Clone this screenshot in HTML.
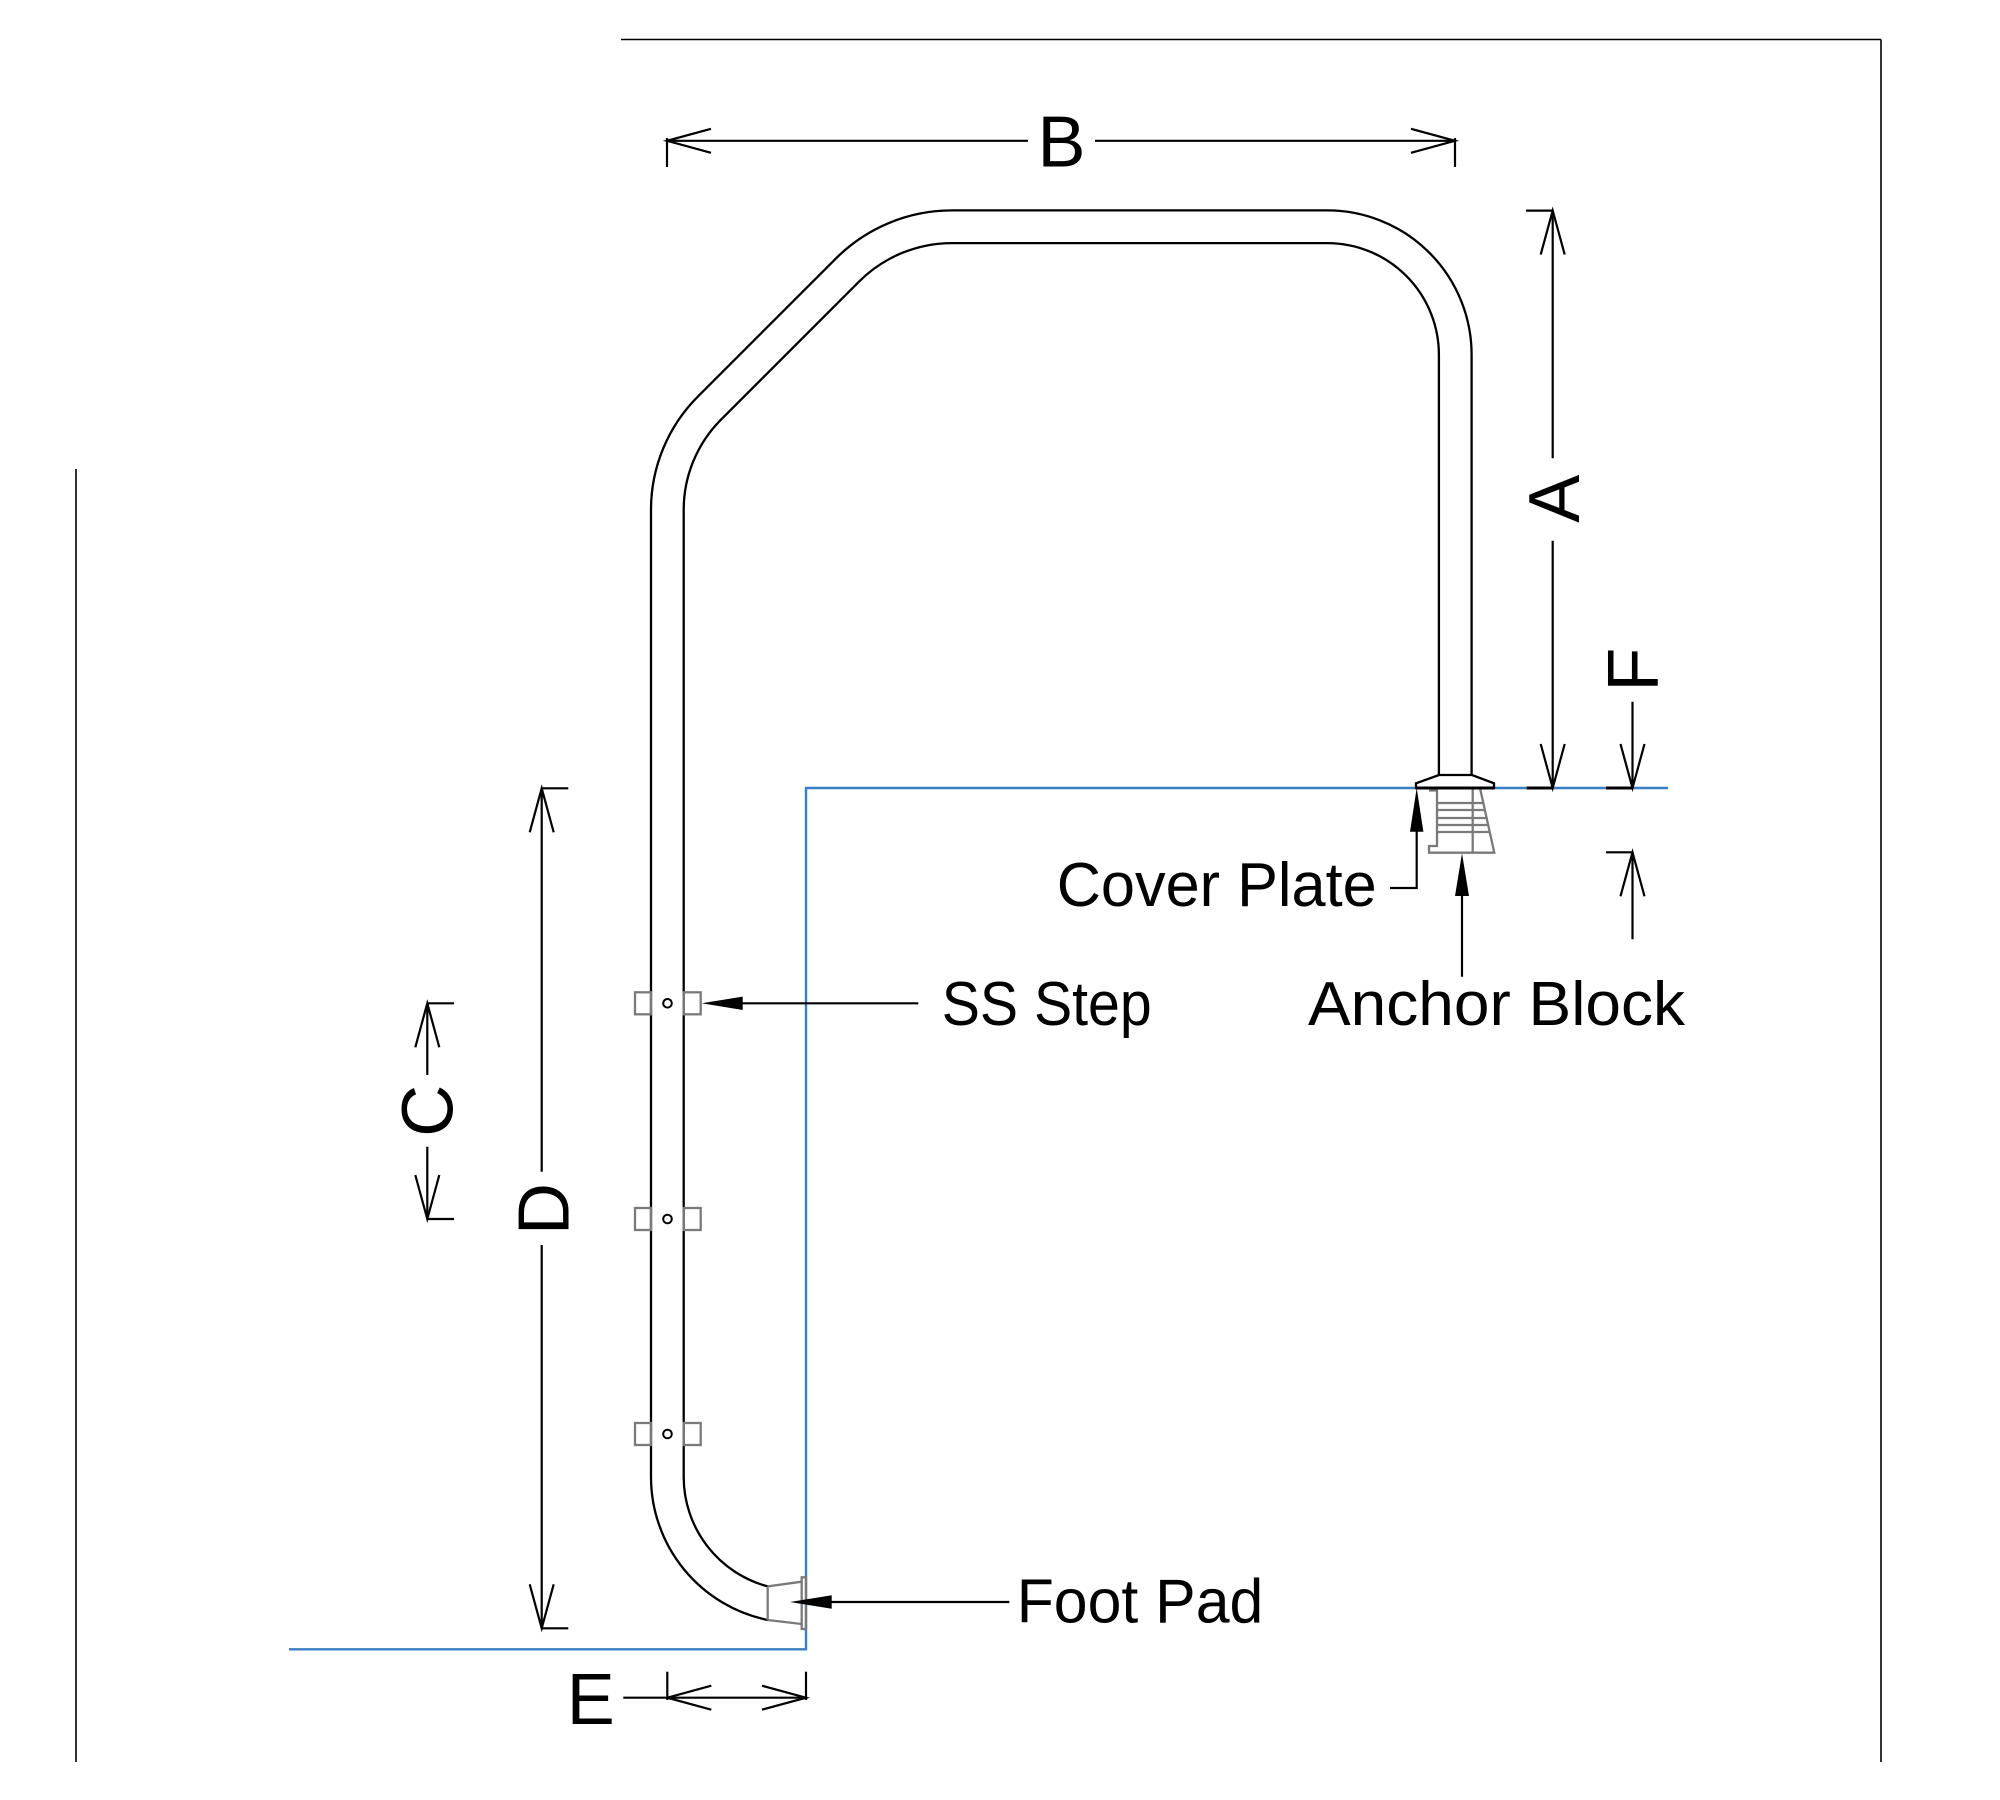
<!DOCTYPE html>
<html>
<head>
<meta charset="utf-8">
<style>
  html, body { margin: 0; padding: 0; background: #ffffff; }
  svg { display: block; }
  text { font-family: "Liberation Sans", "DejaVu Sans", sans-serif; fill: #000; }
</style>
</head>
<body>
<svg width="2000" height="1800" viewBox="0 0 2000 1800" xmlns="http://www.w3.org/2000/svg">
  <rect x="0" y="0" width="2000" height="1800" fill="#ffffff"/>

  <!-- frame lines -->
  <g stroke="#000" stroke-width="1.6" fill="none">
    <line x1="621" y1="39.5" x2="1881" y2="39.5"/>
    <line x1="1881" y1="39.5" x2="1881" y2="1762"/>
    <line x1="76" y1="469" x2="76" y2="1762"/>
  </g>

  <!-- blue deck / wall lines -->
  <polyline points="289,1649.3 806,1649.3 806,788 1668,788" fill="none" stroke="#3b7fc4" stroke-width="2.4"/>

  <!-- pipe outer -->
  <path d="M767.7,1620 A146,146 0 0 1 651,1477 L651,509.8 A160.35,160.35 0 0 1 697.97,396.42 L835.84,258.54 A164.35,164.35 0 0 1 952.05,210.4 L1327.25,210.4 A144.35,144.35 0 0 1 1471.6,354.75 L1471.6,775"
        fill="none" stroke="#000" stroke-width="2.3"/>
  <!-- pipe inner -->
  <path d="M767.7,1586.4 A113.3,113.3 0 0 1 683.7,1477 L683.7,509.8 A127.65,127.65 0 0 1 721.09,419.54 L858.96,281.66 A131.65,131.65 0 0 1 952.05,243.1 L1327.25,243.1 A111.65,111.65 0 0 1 1438.9,354.75 L1438.9,775"
        fill="none" stroke="#000" stroke-width="2.3"/>

  <!-- steps -->
  <g stroke="#7a7a7a" stroke-width="2.3" fill="none">
    <rect x="635" y="992.3" width="16" height="22"/>
    <rect x="683.7" y="992.3" width="17" height="22"/>
    <rect x="635" y="1208" width="16" height="22"/>
    <rect x="683.7" y="1208" width="17" height="22"/>
    <rect x="635" y="1423" width="16" height="22"/>
    <rect x="683.7" y="1423" width="17" height="22"/>
  </g>
  <g stroke="#000" stroke-width="2" fill="#fff">
    <circle cx="667.5" cy="1003.3" r="4.3"/>
    <circle cx="667.5" cy="1219" r="4.3"/>
    <circle cx="667.5" cy="1434" r="4.3"/>
  </g>

  <!-- foot pad -->
  <g stroke="#7a7a7a" stroke-width="2.3" fill="none">
    <line x1="767.7" y1="1586.4" x2="767.7" y2="1620"/>
    <line x1="767.7" y1="1586.4" x2="801.7" y2="1581.7"/>
    <line x1="767.7" y1="1620" x2="801.7" y2="1624"/>
    <rect x="801.7" y="1577.3" width="4.3" height="51.7"/>
  </g>

  <!-- anchor block -->
  <g stroke="#7a7a7a" stroke-width="2.3" fill="none">
    <polyline points="1429,790.5 1437,790.5 1437,846 1429,846 1429,852.7 1494.3,852.7 1480,788"/>
    <line x1="1472.7" y1="788" x2="1472.7" y2="852.7"/>
    <line x1="1437" y1="803" x2="1483.3" y2="803"/>
    <line x1="1437" y1="810" x2="1484.9" y2="810"/>
    <line x1="1437" y1="818" x2="1486.6" y2="818"/>
    <line x1="1437" y1="825" x2="1488.2" y2="825"/>
    <line x1="1437" y1="832" x2="1489.7" y2="832"/>
  </g>
  <!-- cover plate -->
  <path d="M1416,788 L1416,783.3 L1439,775 L1472,775 L1494,783.3 L1494,788 Z" fill="#fff" stroke="#000" stroke-width="2.3"/>
  <line x1="1416" y1="788" x2="1494" y2="788" stroke="#000" stroke-width="3"/>

  <!-- dimension lines -->
  <g stroke="#000" stroke-width="2.2" fill="none">
    <!-- B -->
    <line x1="667" y1="140.8" x2="1028" y2="140.8"/>
    <line x1="1095" y1="140.8" x2="1455" y2="140.8"/>
    <line x1="667" y1="138" x2="667" y2="167"/>
    <line x1="1455" y1="138" x2="1455" y2="167"/>
    <polyline points="711,128.8 667,140.8 711,152.8"/>
    <polyline points="1411,128.8 1455,140.8 1411,152.8"/>
    <!-- E -->
    <line x1="623.3" y1="1697.7" x2="806" y2="1697.7"/>
    <line x1="667.3" y1="1671.7" x2="667.3" y2="1700"/>
    <line x1="806" y1="1671.7" x2="806" y2="1700"/>
    <polyline points="711.3,1685.7 667.3,1697.7 711.3,1709.7"/>
    <polyline points="762,1685.7 806,1697.7 762,1709.7"/>
    <!-- A -->
    <line x1="1552.7" y1="210.6" x2="1552.7" y2="458.3"/>
    <line x1="1552.7" y1="540.7" x2="1552.7" y2="788"/>
    <line x1="1526" y1="210.6" x2="1553" y2="210.6"/>
    <line x1="1526.7" y1="788" x2="1553" y2="788" stroke-width="3"/>
    <polyline points="1540.7,254.6 1552.7,210.6 1564.7,254.6"/>
    <polyline points="1540.7,744 1552.7,788 1564.7,744"/>
    <!-- F -->
    <line x1="1632.5" y1="701.7" x2="1632.5" y2="788"/>
    <line x1="1632.5" y1="852.3" x2="1632.5" y2="939.3"/>
    <line x1="1606" y1="788" x2="1633" y2="788" stroke-width="3"/>
    <line x1="1606" y1="852.3" x2="1633.5" y2="852.3"/>
    <polyline points="1620.5,744 1632.5,788 1644.5,744"/>
    <polyline points="1620.5,896.3 1632.5,852.3 1644.5,896.3"/>
    <!-- C -->
    <line x1="427.3" y1="1003.3" x2="427.3" y2="1075"/>
    <line x1="427.3" y1="1146.7" x2="427.3" y2="1219"/>
    <line x1="427.3" y1="1003.3" x2="454" y2="1003.3"/>
    <line x1="427.3" y1="1219" x2="454" y2="1219"/>
    <polyline points="415.3,1047.3 427.3,1003.3 439.3,1047.3"/>
    <polyline points="415.3,1175 427.3,1219 439.3,1175"/>
    <!-- D -->
    <line x1="541.7" y1="788.3" x2="541.7" y2="1171.7"/>
    <line x1="541.7" y1="1245" x2="541.7" y2="1628.3"/>
    <line x1="541.7" y1="788.3" x2="568.3" y2="788.3"/>
    <line x1="541.7" y1="1628.3" x2="568.3" y2="1628.3"/>
    <polyline points="529.7,832.3 541.7,788.3 553.7,832.3"/>
    <polyline points="529.7,1584.3 541.7,1628.3 553.7,1584.3"/>
  </g>

  <!-- leader lines -->
  <g stroke="#000" stroke-width="2.2" fill="none">
    <line x1="740" y1="1003.3" x2="918.3" y2="1003.3"/>
    <polyline points="1416.7,829 1416.7,888 1390,888"/>
    <line x1="1462" y1="894" x2="1462" y2="976.7"/>
    <line x1="829" y1="1602" x2="1009.3" y2="1602"/>
  </g>
  <g fill="#000" stroke="none">
    <polygon points="701.7,1003.3 742.7,996.6 742.7,1010"/>
    <polygon points="1416.7,788 1410,831.7 1423.4,831.7"/>
    <polygon points="1462,853.3 1455,896 1469,896"/>
    <polygon points="790,1602 831.7,1595.3 831.7,1608.7"/>
  </g>

  <!-- labels -->
  <text x="1056.7" y="906" font-size="62" textLength="320" lengthAdjust="spacingAndGlyphs">Cover Plate</text>
  <text x="941.7" y="1025" font-size="62" textLength="210" lengthAdjust="spacingAndGlyphs">SS Step</text>
  <text x="1308" y="1025" font-size="62" textLength="377" lengthAdjust="spacingAndGlyphs">Anchor Block</text>
  <text x="1016.7" y="1622.3" font-size="62" textLength="246.6" lengthAdjust="spacingAndGlyphs">Foot Pad</text>

  <!-- dimension letters -->
  <text x="1061.5" y="166.5" font-size="72" text-anchor="middle">B</text>
  <text x="590.8" y="1724" font-size="72" text-anchor="middle">E</text>
  <text transform="translate(1579,498.7) rotate(-90)" font-size="72" text-anchor="middle">A</text>
  <text transform="translate(568.3,1209) rotate(-90)" font-size="72" text-anchor="middle">D</text>
  <text transform="translate(452.5,1110.8) rotate(-90)" font-size="72" text-anchor="middle">C</text>
  <text transform="translate(1657.7,669.7) rotate(-90)" font-size="72" text-anchor="middle">F</text>
</svg>
</body>
</html>
